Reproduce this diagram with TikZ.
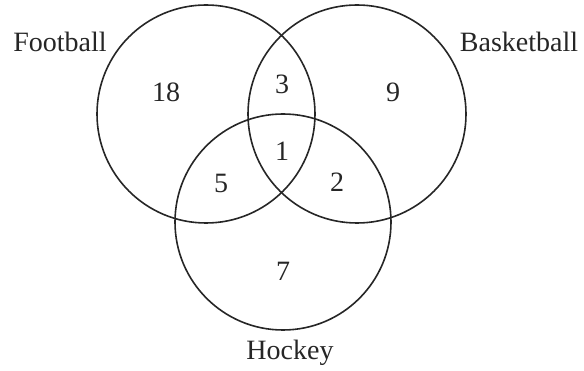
\documentclass[tikz,border=0pt]{standalone}
\usepackage{fontspec}
\setmainfont{Liberation Serif}
\begin{document}
\begin{tikzpicture}[x=1pt,y=-1pt,
  setcircle/.style={draw=black!85,line width=1.6pt,circle,minimum size=218pt,inner sep=0pt},
  setlabel/.style={font=\fontsize{28}{30}\selectfont,inner sep=0pt,text=black!85},
  count/.style={font=\fontsize{28}{30}\selectfont,inner sep=0pt,text=black!85}]
\useasboundingbox (0,0) rectangle (584,371);
\node[setcircle] (F) at (206,114) {};
\node[setcircle] (B) at (357,114) {};
\node[setcircle,minimum size=216pt] (H) at (283,222) {};
\node[setlabel] (lF) at (60,42) {Football};
\node[setlabel] (lB) at (519,42) {Basketball};
\node[setlabel] (lH) at (290,353) {Hockey};
\node[count] (n18) at (166,92) {18};
\node[count] (n3) at (282,84) {3};
\node[count] (n9) at (393,92) {9};
\node[count] (n1) at (282,151) {1};
\node[count] (n5) at (221,183) {5};
\node[count] (n2) at (337,182) {2};
\node[count] (n7) at (283,271) {7};
\end{tikzpicture}
\end{document}
